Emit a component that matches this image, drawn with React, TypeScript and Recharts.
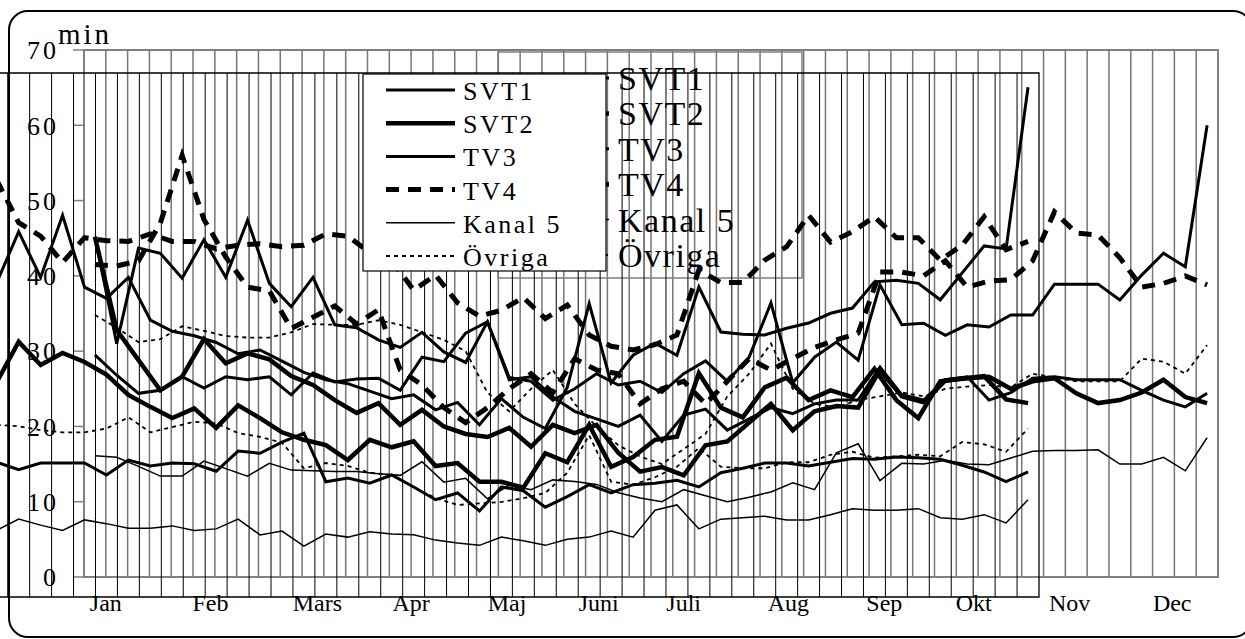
import React from 'react';
import { LineChart, Line, XAxis, YAxis, ReferenceLine, ReferenceArea } from 'recharts';

// week categories
const weeksA = Array.from({ length: 52 }, (_, i) => i + 1);
const weeksB = Array.from({ length: 48 }, (_, i) => i + 5);

const monthLabels = ['Jan', 'Feb', 'Mars', 'Apr', 'Maj', 'Juni', 'Juli', 'Aug', 'Sep', 'Okt', 'Nov', 'Dec'];
const monthTicks = [1.5, 6.3, 11.2, 15.5, 19.9, 24.1, 28.0, 32.8, 37.2, 41.3, 45.7, 50.4];
const yTicks = [0, 10, 20, 30, 40, 50, 60, 70];

// front chart (gray frame), weeks 1-52
const aSvt1 = [45.2, 31.0, 43.7, 43.0, 39.7, 44.8, 39.8, 47.4, 39.0, 35.9, 39.8, 33.5, 33.1, 31.5, 30.5, 32.5, 29.9, 28.5, 33.9, 26.5, 26.0, 23.5, 25.0, 27.0, 25.5, 26.0, 24.5, 27.0, 28.7, 26.0, 29.2, 36.4, 25.8, 29.2, 31.2, 28.8, 38.8, 33.5, 33.7, 32.1, 33.5, 33.2, 34.8, 34.8, 38.9, 38.9, 38.9, 36.8, 40.1, 43.0, 41.2, 60.0];
const aSvt2 = [45.2, 32.8, 28.8, 24.8, 26.6, 31.6, 28.4, 29.7, 28.9, 26.7, 25.5, 23.5, 21.8, 23.1, 20.2, 22.2, 20.0, 19.0, 18.6, 19.8, 17.3, 20.2, 19.1, 20.2, 16.5, 14.0, 14.6, 13.5, 17.5, 18.0, 20.5, 23.0, 19.5, 22.0, 22.7, 22.5, 27.5, 24.0, 23.2, 26.1, 26.4, 26.6, 25.0, 26.0, 26.4, 24.4, 23.1, 23.5, 24.5, 26.2, 23.9, 23.1];
const aTv3 = [29.5, 26.8, 24.4, 24.8, 26.6, 25.1, 26.6, 26.2, 26.6, 24.2, 27.1, 25.9, 26.3, 26.4, 24.8, 29.2, 28.6, 32.4, 33.9, 26.2, 26.6, 23.9, 22.0, 21.0, 20.0, 21.5, 18.0, 21.5, 22.3, 19.5, 21.0, 22.5, 21.7, 23.0, 23.5, 23.5, 27.9, 24.2, 23.5, 26.2, 26.6, 23.5, 24.5, 26.4, 26.6, 26.2, 26.2, 26.2, 24.8, 23.5, 22.6, 24.4];
const aTv4 = [41.5, 41.3, 42.0, 47.0, 56.0, 47.5, 42.5, 38.5, 38.0, 33.0, 34.5, 36.0, 33.6, 35.5, 27.5, 25.5, 22.5, 20.5, 22.5, 25.0, 27.0, 24.5, 29.0, 27.5, 27.0, 23.0, 25.0, 26.0, 23.0, 26.0, 29.0, 27.5, 29.0, 30.5, 31.5, 32.4, 40.5, 40.5, 40.0, 42.0, 38.5, 39.3, 39.5, 42.0, 48.5, 45.7, 45.4, 42.4, 38.5, 39.0, 40.0, 38.8];
const aKanal5 = [16.1, 15.9, 14.7, 13.4, 13.4, 15.4, 14.4, 13.4, 15.1, 14.2, 14.1, 14.0, 14.0, 13.7, 13.5, 15.3, 12.6, 13.1, 10.4, 12.2, 11.6, 12.9, 12.7, 12.3, 11.2, 10.5, 10.0, 11.6, 10.8, 10.0, 10.6, 11.3, 12.5, 11.6, 16.5, 17.7, 12.8, 15.1, 15.0, 15.5, 15.0, 14.9, 15.8, 16.7, 16.8, 16.8, 16.9, 15.0, 15.0, 15.9, 14.1, 18.5];
const aOvriga = [34.8, 33.1, 31.2, 31.6, 33.3, 32.7, 32.0, 31.8, 31.8, 32.5, 33.6, 33.5, 33.5, 34.1, 33.5, 32.5, 31.5, 30.0, 24.5, 22.0, 25.0, 27.5, 23.0, 20.0, 17.5, 16.0, 15.0, 17.0, 19.0, 24.0, 27.0, 31.0, 25.0, 23.0, 22.5, 23.5, 24.0, 24.5, 24.0, 25.0, 25.3, 25.5, 25.2, 27.0, 26.5, 26.0, 26.0, 26.0, 29.0, 28.6, 27.0, 30.8];

// overlaid chart (black frame, shifted), weeks 5-52
const bSvt1 = [42.0, 48.8, 42.7, 51.0, 41.4, 39.9, 42.7, 37.0, 35.5, 34.9, 34.0, 32.5, 33.0, 31.5, 30.0, 29.0, 28.5, 27.5, 26.5, 27.0, 25.0, 26.0, 23.0, 26.5, 24.0, 22.5, 28.0, 39.2, 28.6, 32.3, 33.9, 32.3, 41.4, 35.4, 35.1, 35.0, 35.9, 36.6, 37.9, 38.6, 42.1, 42.3, 41.9, 39.7, 43.3, 46.9, 46.5, 68.1];
const bSvt2 = [28.7, 34.1, 31.0, 32.6, 31.4, 29.7, 27.0, 25.4, 23.9, 25.2, 22.6, 25.6, 23.9, 22.0, 21.0, 20.3, 18.3, 21.0, 20.0, 20.8, 17.5, 17.9, 15.4, 15.4, 14.6, 19.2, 18.0, 23.0, 17.4, 18.7, 21.0, 21.4, 29.9, 25.3, 24.0, 28.0, 29.3, 26.3, 27.6, 26.7, 30.5, 26.3, 23.9, 28.8, 29.2, 29.5, 26.4, 25.9];
const bTv3 = [18.0, 17.0, 17.9, 17.9, 17.9, 16.3, 18.3, 17.5, 17.9, 17.8, 16.8, 19.5, 19.2, 20.7, 21.9, 15.4, 15.9, 15.2, 16.3, 14.7, 13.0, 13.9, 11.5, 14.7, 14.2, 12.0, 13.4, 15.0, 13.9, 15.0, 15.2, 15.6, 14.7, 16.6, 17.2, 17.9, 17.9, 17.5, 18.0, 18.5, 18.4, 18.7, 18.6, 18.4, 17.6, 16.7, 15.4, 16.7];
const bTv4 = [55.7, 50.0, 48.2, 44.7, 48.0, 47.6, 47.5, 48.5, 47.5, 47.5, 46.5, 47.0, 47.2, 46.8, 47.0, 48.5, 48.2, 46.0, 45.0, 41.0, 43.0, 39.3, 37.5, 38.3, 40.0, 37.2, 39.0, 35.0, 33.5, 33.0, 33.7, 35.0, 43.7, 42.0, 42.0, 45.0, 46.8, 51.0, 47.4, 48.8, 50.8, 48.0, 48.0, 45.0, 47.0, 50.8, 46.4, 47.5];
const bKanal5 = [8.9, 10.4, 9.6, 8.9, 10.3, 9.8, 9.2, 9.2, 9.5, 8.9, 9.1, 10.4, 8.3, 8.8, 6.8, 8.4, 8.0, 8.7, 8.4, 8.3, 7.6, 7.2, 6.9, 8.0, 7.5, 6.9, 7.7, 8.0, 8.8, 8.0, 11.6, 12.3, 9.1, 10.4, 10.6, 10.8, 10.3, 10.3, 11.0, 11.8, 11.6, 11.6, 11.8, 10.6, 10.4, 11.0, 9.9, 13.0];
const bOvriga = [23.0, 22.8, 22.3, 22.0, 22.0, 22.5, 24.0, 22.0, 22.7, 23.4, 23.2, 21.9, 21.4, 20.6, 17.2, 17.9, 17.5, 16.6, 16.3, 14.7, 13.2, 12.3, 12.5, 12.7, 13.2, 13.9, 16.6, 21.6, 15.4, 15.0, 16.0, 17.4, 19.9, 17.4, 17.2, 17.2, 18.0, 18.0, 19.0, 19.4, 18.6, 18.8, 19.0, 18.8, 20.7, 20.4, 19.4, 22.5];

const tableA = weeksA.map((week, i) => ({
  week, svt1: aSvt1[i], svt2: aSvt2[i], tv3: aTv3[i], tv4: aTv4[i], kanal5: aKanal5[i], ovriga: aOvriga[i],
}));
const tableB = weeksB.map((week, i) => ({
  week, svt1: bSvt1[i], svt2: bSvt2[i], tv3: bTv3[i], tv4: bTv4[i], kanal5: bKanal5[i], ovriga: bOvriga[i],
}));

const series = [
  { key: 'svt1', name: 'SVT1', width: 3, dash: undefined },
  { key: 'svt2', name: 'SVT2', width: 4.5, dash: undefined },
  { key: 'tv3', name: 'TV3', width: 3, dash: undefined },
  { key: 'tv4', name: 'TV4', width: 5, dash: '13 9' },
  { key: 'kanal5', name: 'Kanal 5', width: 1.5, dash: undefined },
  { key: 'ovriga', name: 'Övriga', width: 1.8, dash: '4 4' },
];

const gridBounds = weeksA.slice(0, 51).map((w) => w + 0.5);
const font = "'Liberation Serif', 'Times New Roman', serif";

const drawLines = () =>
  series.map((s) => (
    <Line
      key={s.key}
      type="linear"
      dataKey={s.key}
      stroke="#000"
      strokeWidth={s.width}
      strokeDasharray={s.dash}
      dot={false}
      activeDot={false}
      isAnimationActive={false}
    />
  ));

const FrontChart = () => (
  <div style={{ position: 'absolute', left: 0, top: 0 }}>
    <LineChart width={1245} height={639} data={tableA} margin={{ top: 50, right: 27, bottom: 22, left: 24 }}>
      <XAxis
        dataKey="week"
        type="number"
        domain={[0.5, 52.5]}
        ticks={monthTicks}
        interval={0}
        tickFormatter={(v: number) => monthLabels[monthTicks.indexOf(v)]}
        axisLine={false}
        tickLine={false}
        tickSize={0}
        tickMargin={17}
        height={40}
        tick={{ fill: '#000', fontSize: 24, fontFamily: font }}
      />
      <YAxis
        type="number"
        domain={[0, 70]}
        ticks={yTicks}
        interval={0}
        width={60}
        tickSize={11}
        tickMargin={14}
        axisLine={{ stroke: '#808080', strokeWidth: 2 }}
        tickLine={{ stroke: '#808080', strokeWidth: 1.5 }}
        tick={{ fill: '#000', fontSize: 26, fontFamily: font, letterSpacing: 3 }}
      />
      {gridBounds.map((b) => (
        <ReferenceLine key={b} x={b} stroke="#777" strokeWidth={1.5} />
      ))}
      <ReferenceArea x1={0.5} x2={52.5} y1={0} y2={70} stroke="#808080" strokeWidth={2} fill="none" />
      {drawLines()}
    </LineChart>
  </div>
);

const BackChart = () => (
  <div style={{ position: 'absolute', left: -150, top: 0 }}>
    <LineChart width={1395} height={639} data={tableB} margin={{ top: 73, right: 206, bottom: 42, left: 48 }}>
      <XAxis dataKey="week" type="number" domain={[0.5, 52.5]} hide />
      <YAxis type="number" domain={[0, 70]} hide />
      {gridBounds.map((b) => (
        <ReferenceLine key={b} x={b} stroke="#000" strokeWidth={1} />
      ))}
      <ReferenceArea x1={0.5} x2={52.5} y1={0} y2={70} stroke="#000" strokeWidth={1.3} fill="none" />
      {drawLines()}
    </LineChart>
  </div>
);

// big legend belonging to the front chart (transparent box)
const BigLegend = () => (
  <svg width={1245} height={639} style={{ position: 'absolute', left: 0, top: 0 }}>
    <rect x={498} y={52} width={304} height={226} fill="none" stroke="#808080" strokeWidth={1.5} />
    {series.map((s, i) => (
      <g key={s.key}>
        <line x1={540} x2={609} y1={78 + i * 35.4} y2={78 + i * 35.4} stroke="#000" strokeWidth={s.width} strokeDasharray={s.dash} />
        <text x={618} y={90 + i * 35.4} fontSize={34} fontFamily={font} letterSpacing={1.5} fill="#000">
          {s.name}
        </text>
      </g>
    ))}
  </svg>
);

// small legend on top (white box)
const SmallLegend = () => (
  <svg width={1245} height={639} style={{ position: 'absolute', left: 0, top: 0 }}>
    <rect x={363} y={74} width={243} height={197} fill="#fff" stroke="#000" strokeWidth={1.2} />
    {series.map((s, i) => (
      <g key={s.key}>
        <line x1={386} x2={455} y1={90 + i * 33.2} y2={90 + i * 33.2} stroke="#000" strokeWidth={s.width} strokeDasharray={s.dash} />
        <text x={463} y={100 + i * 33.2} fontSize={26} fontFamily={font} letterSpacing={2.5} fill="#000">
          {s.name}
        </text>
      </g>
    ))}
  </svg>
);

const App: React.FC = () => {
  return (
    <div style={{ position: 'absolute', left: 0, top: 0, width: 1245, height: 639, overflow: 'hidden', background: '#fff' }}>
      <div
        style={{
          position: 'absolute', left: 8, top: 10, width: 1245, height: 628,
          border: '2px solid #000', borderRadius: 20, boxSizing: 'border-box',
        }}
      />
      <FrontChart />
      <BigLegend />
      <BackChart />
      <SmallLegend />
      <svg width={200} height={60} style={{ position: 'absolute', left: 0, top: 0 }}>
        <text x={58} y={44} fontSize={29} fontFamily={font} letterSpacing={3} fill="#000">min</text>
      </svg>
    </div>
  );
};

export default App;
